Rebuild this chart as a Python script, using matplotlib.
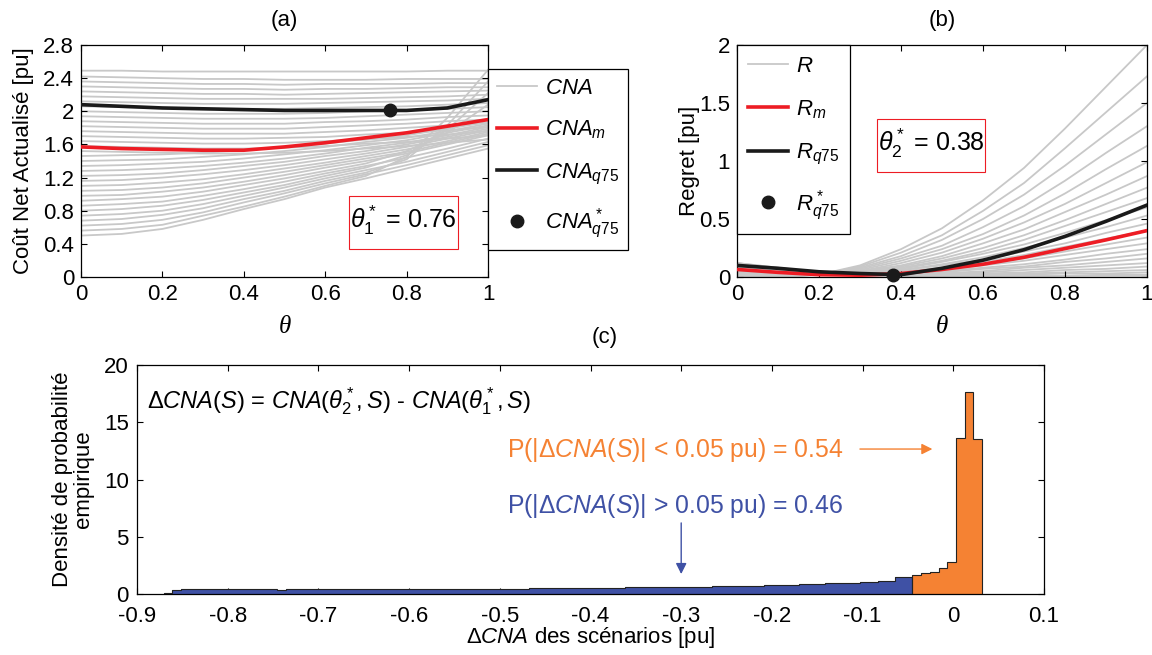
import numpy as np
import matplotlib
matplotlib.use("Agg")
import matplotlib.pyplot as plt
from matplotlib.lines import Line2D
from matplotlib.patches import Rectangle

plt.rcParams['font.family'] = ['Liberation Sans', 'DejaVu Sans']
plt.rcParams['mathtext.fontset'] = 'custom'
plt.rcParams['mathtext.rm'] = 'Liberation Sans'
plt.rcParams['mathtext.it'] = 'Liberation Sans:italic'
plt.rcParams['mathtext.bf'] = 'Liberation Sans:bold'
plt.rcParams['axes.linewidth'] = 0.9

# ---------------- data ----------------
theta = [0.0, 0.1, 0.2, 0.3, 0.4, 0.5, 0.6, 0.7, 0.8, 0.9, 1.0]

# (a) CNA per scenario
cna_scen = [
    [0.50, 0.52, 0.58, 0.69, 0.82, 0.94, 1.08, 1.19, 1.31, 1.43, 1.55],
    [0.56, 0.58, 0.63, 0.74, 0.85, 0.97, 1.10, 1.22, 1.45, 1.92, 2.50],
    [0.62, 0.64, 0.69, 0.78, 0.90, 1.01, 1.13, 1.24, 1.35, 1.47, 1.59],
    [0.68, 0.70, 0.75, 0.83, 0.94, 1.04, 1.16, 1.26, 1.42, 1.83, 2.36],
    [0.74, 0.76, 0.80, 0.88, 0.98, 1.08, 1.19, 1.29, 1.39, 1.51, 1.63],
    [0.80, 0.82, 0.86, 0.93, 1.02, 1.11, 1.22, 1.32, 1.47, 1.78, 2.22],
    [0.86, 0.88, 0.91, 0.98, 1.06, 1.15, 1.25, 1.34, 1.44, 1.55, 1.67],
    [0.92, 0.94, 0.97, 1.03, 1.11, 1.19, 1.28, 1.37, 1.52, 1.74, 2.08],
    [0.98, 0.99, 1.03, 1.08, 1.15, 1.23, 1.32, 1.40, 1.49, 1.60, 1.71],
    [1.04, 1.05, 1.08, 1.13, 1.20, 1.27, 1.35, 1.43, 1.51, 1.62, 1.73],
    [1.10, 1.11, 1.14, 1.18, 1.24, 1.31, 1.38, 1.46, 1.54, 1.64, 1.75],
    [1.16, 1.17, 1.20, 1.24, 1.29, 1.35, 1.42, 1.49, 1.57, 1.67, 1.77],
    [1.22, 1.23, 1.25, 1.29, 1.34, 1.39, 1.46, 1.52, 1.60, 1.69, 1.79],
    [1.28, 1.29, 1.31, 1.34, 1.38, 1.43, 1.49, 1.56, 1.62, 1.71, 1.81],
    [1.34, 1.35, 1.37, 1.39, 1.43, 1.48, 1.53, 1.59, 1.65, 1.74, 1.83],
    [1.40, 1.41, 1.42, 1.45, 1.48, 1.52, 1.57, 1.63, 1.68, 1.76, 1.85],
    [1.46, 1.47, 1.48, 1.50, 1.53, 1.57, 1.61, 1.66, 1.71, 1.79, 1.87],
    [1.52, 1.51, 1.50, 1.49, 1.49, 1.50, 1.52, 1.55, 1.58, 1.62, 1.66],
    [1.58, 1.57, 1.56, 1.55, 1.55, 1.56, 1.58, 1.61, 1.63, 1.67, 1.71],
    [1.64, 1.63, 1.62, 1.61, 1.61, 1.62, 1.64, 1.66, 1.69, 1.72, 1.76],
    [1.70, 1.69, 1.68, 1.67, 1.67, 1.68, 1.69, 1.72, 1.74, 1.77, 1.81],
    [1.76, 1.75, 1.74, 1.73, 1.73, 1.73, 1.75, 1.77, 1.80, 1.83, 1.86],
    [1.82, 1.81, 1.80, 1.79, 1.79, 1.79, 1.81, 1.83, 1.85, 1.88, 1.90],
    [1.88, 1.87, 1.86, 1.85, 1.85, 1.85, 1.87, 1.88, 1.90, 1.93, 1.95],
    [1.94, 1.93, 1.92, 1.91, 1.91, 1.91, 1.92, 1.94, 1.96, 1.98, 2.00],
    [2.00, 1.99, 1.98, 1.97, 1.97, 1.97, 1.98, 2.00, 2.01, 2.03, 2.05],
    [2.06, 2.05, 2.04, 2.03, 2.03, 2.03, 2.04, 2.05, 2.06, 2.08, 2.10],
    [2.12, 2.11, 2.10, 2.09, 2.09, 2.09, 2.10, 2.11, 2.12, 2.13, 2.15],
    [2.18, 2.17, 2.16, 2.15, 2.15, 2.15, 2.15, 2.16, 2.17, 2.18, 2.20],
    [2.24, 2.23, 2.22, 2.21, 2.21, 2.20, 2.21, 2.22, 2.23, 2.24, 2.25],
    [2.30, 2.29, 2.28, 2.27, 2.27, 2.26, 2.27, 2.27, 2.28, 2.29, 2.29],
    [2.36, 2.35, 2.34, 2.33, 2.33, 2.32, 2.33, 2.33, 2.33, 2.34, 2.34],
    [2.42, 2.41, 2.40, 2.39, 2.39, 2.38, 2.38, 2.38, 2.39, 2.39, 2.39],
    [2.49, 2.49, 2.48, 2.48, 2.48, 2.48, 2.48, 2.48, 2.48, 2.49, 2.49],
]
cna_mean = [1.57, 1.55, 1.54, 1.53, 1.53, 1.57, 1.62, 1.68, 1.74, 1.82, 1.90]
cna_q75 = [2.08, 2.06, 2.04, 2.03, 2.02, 2.01, 2.01, 2.01, 2.01, 2.04, 2.14]
theta1_star = 0.76
cna_q75_star = 2.01

# (b) Regret per scenario
reg_scen = [
    [0.00, 0.00, 0.02, 0.10, 0.24, 0.42, 0.66, 0.94, 1.28, 1.64, 2.00],
    [0.00, 0.00, 0.02, 0.09, 0.21, 0.36, 0.57, 0.81, 1.11, 1.42, 1.73],
    [0.01, 0.00, 0.02, 0.08, 0.18, 0.32, 0.50, 0.71, 0.96, 1.23, 1.50],
    [0.01, 0.01, 0.02, 0.07, 0.16, 0.27, 0.43, 0.61, 0.83, 1.07, 1.30],
    [0.02, 0.01, 0.02, 0.06, 0.14, 0.24, 0.37, 0.53, 0.72, 0.93, 1.13],
    [0.03, 0.02, 0.02, 0.05, 0.12, 0.21, 0.33, 0.47, 0.63, 0.81, 0.99],
    [0.04, 0.02, 0.02, 0.05, 0.10, 0.18, 0.29, 0.41, 0.56, 0.71, 0.87],
    [0.05, 0.03, 0.02, 0.04, 0.09, 0.16, 0.25, 0.36, 0.49, 0.63, 0.77],
    [0.05, 0.03, 0.03, 0.04, 0.08, 0.14, 0.22, 0.32, 0.44, 0.56, 0.68],
    [0.06, 0.04, 0.03, 0.04, 0.07, 0.13, 0.20, 0.28, 0.38, 0.49, 0.60],
    [0.06, 0.04, 0.03, 0.03, 0.06, 0.11, 0.17, 0.25, 0.34, 0.43, 0.53],
    [0.07, 0.05, 0.03, 0.03, 0.06, 0.10, 0.15, 0.22, 0.29, 0.38, 0.46],
    [0.08, 0.05, 0.03, 0.03, 0.05, 0.08, 0.13, 0.19, 0.26, 0.33, 0.40],
    [0.08, 0.05, 0.03, 0.03, 0.04, 0.07, 0.11, 0.16, 0.22, 0.28, 0.34],
    [0.09, 0.06, 0.03, 0.03, 0.03, 0.06, 0.10, 0.14, 0.19, 0.24, 0.29],
    [0.09, 0.06, 0.03, 0.02, 0.03, 0.05, 0.08, 0.11, 0.15, 0.20, 0.24],
    [0.10, 0.06, 0.04, 0.02, 0.02, 0.04, 0.07, 0.09, 0.13, 0.16, 0.20],
    [0.10, 0.07, 0.04, 0.02, 0.02, 0.03, 0.05, 0.08, 0.10, 0.13, 0.16],
    [0.11, 0.07, 0.04, 0.02, 0.01, 0.03, 0.04, 0.06, 0.08, 0.10, 0.12],
    [0.11, 0.07, 0.04, 0.02, 0.01, 0.02, 0.03, 0.04, 0.06, 0.07, 0.09],
    [0.11, 0.07, 0.04, 0.02, 0.01, 0.01, 0.02, 0.03, 0.04, 0.05, 0.06],
    [0.12, 0.07, 0.04, 0.02, 0.00, 0.01, 0.01, 0.02, 0.03, 0.03, 0.04],
    [0.12, 0.08, 0.04, 0.01, 0.00, 0.00, 0.01, 0.01, 0.01, 0.02, 0.02],
    [0.12, 0.08, 0.04, 0.01, 0.00, 0.00, 0.00, 0.00, 0.01, 0.01, 0.01],
]
reg_mean = [0.065, 0.04, 0.02, 0.015, 0.03, 0.065, 0.11, 0.17, 0.245, 0.32, 0.40]
reg_q75 = [0.10, 0.075, 0.045, 0.03, 0.02, 0.075, 0.145, 0.235, 0.35, 0.48, 0.62]
theta2_star = 0.38
reg_q75_star = 0.02

# (c) histogram of Delta CNA
hist_start = -0.8706
bin_width = 0.0096
dens_far = [
    0.12, 0.38, 0.40, 0.40, 0.42, 0.40, 0.40, 0.44, 0.41, 0.40,
    0.40, 0.43, 0.40, 0.38, 0.42, 0.42, 0.40, 0.40, 0.44, 0.43,
    0.42, 0.40, 0.40, 0.43, 0.43, 0.41, 0.40, 0.42, 0.42, 0.40,
    0.40, 0.41, 0.42, 0.42, 0.42, 0.42, 0.46, 0.46, 0.45, 0.48,
    0.46, 0.46, 0.49, 0.50, 0.50, 0.52, 0.50, 0.52, 0.52, 0.50,
    0.55, 0.55, 0.56, 0.58, 0.58, 0.57, 0.60, 0.60, 0.58, 0.62,
    0.64, 0.65, 0.62, 0.66, 0.70, 0.70, 0.72, 0.72, 0.74, 0.75,
    0.78, 0.80, 0.82, 0.85, 0.85, 0.88, 0.92, 0.93, 0.95, 1.00,
    1.02, 1.05, 1.10, 1.15, 1.45, 1.50,
]
dens_near = [1.66, 1.80, 1.95, 2.24, 2.76, 13.6, 17.65, 13.55]

GRAY = '#c8c8c8'
RED = '#ed1c24'
BLACK = '#1a1a1a'
ORANGE = '#f58233'
BLUE = '#3f51a5'
FS = 16

# ---------------- figure ----------------
W, H = 1152, 655
fig = plt.figure(figsize=(W / 100, H / 100), dpi=100)

def px_axes(x0, y0, x1, y1):
    return fig.add_axes([x0 / W, 1 - y1 / H, (x1 - x0) / W, (y1 - y0) / H])

def px_box(x0, y0, x1, y1):
    r = Rectangle((x0 / W, 1 - y1 / H), (x1 - x0) / W, (y1 - y0) / H,
                  transform=fig.transFigure, fc='white', ec=RED, lw=0.8, zorder=5)
    fig.add_artist(r)

axa = px_axes(81, 45, 488, 277)
axb = px_axes(737, 45, 1147, 277)
axc = px_axes(137, 365, 1044, 594)

for ax in (axa, axb, axc):
    ax.tick_params(direction='in', top=True, right=True, length=4.5, width=0.8,
                   labelsize=FS, pad=5)
    for s in ax.spines.values():
        s.set_linewidth(0.9)
axc.tick_params(axis='x', pad=8.5)
axc.tick_params(axis='y', pad=6)

# ---- (a)
for row in cna_scen:
    axa.plot(theta, row, color=GRAY, lw=1.3, zorder=1)
axa.plot(theta, cna_mean, color=RED, lw=2.6, zorder=3)
axa.plot(theta, cna_q75, color=BLACK, lw=2.6, zorder=4)
axa.plot([theta1_star], [cna_q75_star], 'o', color=BLACK, ms=9, zorder=5)
axa.set_xlim(0, 1)
axa.set_ylim(0, 2.8)
axa.set_xticks([0, 0.2, 0.4, 0.6, 0.8, 1])
axa.set_xticklabels(['0', '0.2', '0.4', '0.6', '0.8', '1'])
axa.set_yticks([0, 0.4, 0.8, 1.2, 1.6, 2.0, 2.4, 2.8])
axa.set_yticklabels(['0', '0.4', '0.8', '1.2', '1.6', '2', '2.4', '2.8'])
axa.set_title('(a)', fontsize=FS, pad=14)
axa.set_ylabel('Coût Net Actualisé [pu]', fontsize=FS)
axa.yaxis.set_label_coords(-0.115, 0.5)
axa.set_xlabel('θ', fontsize=FS + 2, family='Liberation Serif', style='italic')
axa.xaxis.set_label_coords(0.5, -0.17)

hand_a = [Line2D([], [], color=GRAY, lw=1.3),
          Line2D([], [], color=RED, lw=2.6),
          Line2D([], [], color=BLACK, lw=2.6),
          Line2D([], [], color=BLACK, ls='none', marker='o', ms=9)]
lab_a = [r'$CNA$', r'$CNA_m$', r'$CNA_{q75}$', r'$CNA^*_{q75}$']
leg_a = fig.legend(hand_a, lab_a, loc='upper left',
                   bbox_to_anchor=(488 / W, 1 - 69 / H), bbox_transform=fig.transFigure,
                   fontsize=FS, frameon=True, fancybox=False, framealpha=1,
                   edgecolor='black', borderaxespad=0, handlelength=1.8,
                   labelspacing=0.9, borderpad=0.4, handletextpad=0.35)
leg_a.get_frame().set_linewidth(0.9)

px_box(349, 196, 458, 249)
fig.text(403 / W, 1 - 220 / H, r'$\theta^*_1$ = 0.76', fontsize=18,
         ha='center', va='center', zorder=6)

# ---- (b)
for row in reg_scen:
    axb.plot(theta, row, color=GRAY, lw=1.3, zorder=1)
axb.plot(theta, reg_mean, color=RED, lw=2.6, zorder=3)
axb.plot(theta, reg_q75, color=BLACK, lw=2.6, zorder=4)
axb.plot([theta2_star], [reg_q75_star], 'o', color=BLACK, ms=9, zorder=5, clip_on=False)
axb.set_xlim(0, 1)
axb.set_ylim(0, 2)
axb.set_xticks([0, 0.2, 0.4, 0.6, 0.8, 1])
axb.set_xticklabels(['0', '0.2', '0.4', '0.6', '0.8', '1'])
axb.set_yticks([0, 0.5, 1, 1.5, 2])
axb.set_yticklabels(['0', '0.5', '1', '1.5', '2'])
axb.set_title('(b)', fontsize=FS, pad=14)
axb.set_ylabel('Regret [pu]', fontsize=FS)
axb.yaxis.set_label_coords(-0.09, 0.5)
axb.set_xlabel('θ', fontsize=FS + 2, family='Liberation Serif', style='italic')
axb.xaxis.set_label_coords(0.5, -0.17)

hand_b = [Line2D([], [], color=GRAY, lw=1.3),
          Line2D([], [], color=RED, lw=2.6),
          Line2D([], [], color=BLACK, lw=2.6),
          Line2D([], [], color=BLACK, ls='none', marker='o', ms=9)]
lab_b = [r'$R$', r'$R_m$', r'$R_{q75}$', r'$R^*_{q75}$']
leg_b = axb.legend(hand_b, lab_b, loc='upper left',
                   bbox_to_anchor=(737 / W, 1 - 45 / H), bbox_transform=fig.transFigure,
                   fontsize=FS, frameon=True, fancybox=False, framealpha=1,
                   edgecolor='black', borderaxespad=0, handlelength=1.8,
                   labelspacing=0.95, borderpad=0.5, handletextpad=0.35)
leg_b.get_frame().set_linewidth(0.9)

px_box(877, 119, 985, 172)
fig.text(931 / W, 1 - 143 / H, r'$\theta^*_2$ = 0.38', fontsize=18,
         ha='center', va='center', zorder=6)

# ---- (c)
n_far = len(dens_far)
n_near = len(dens_near)
edges_far = hist_start + bin_width * np.arange(n_far + 1)
edges_near = edges_far[-1] + bin_width * np.arange(n_near + 1)
axc.stairs(dens_far, edges_far, fill=True, color=BLUE, zorder=2)
axc.stairs(dens_near, edges_near, fill=True, color=ORANGE, zorder=2)
axc.stairs(dens_far, edges_far, color='#222222', lw=0.8, zorder=3)
axc.stairs(dens_near, edges_near, baseline=0, color='#222222', lw=0.8, zorder=3)
axc.set_xlim(-0.9, 0.1)
axc.set_ylim(0, 20)
axc.set_xticks(np.round(np.arange(-0.9, 0.11, 0.1), 1))
axc.set_xticklabels(['-0.9', '-0.8', '-0.7', '-0.6', '-0.5', '-0.4', '-0.3',
                     '-0.2', '-0.1', '0', '0.1'])
axc.set_yticks([0, 5, 10, 15, 20])
for lab in axc.get_yticklabels():
    lab.set_va('center_baseline')
axc.set_ylabel('Densité de probabilité\nempirique', fontsize=FS, linespacing=1.0)
axc.yaxis.set_label_coords(-0.047, 0.5)
axc.set_xlabel(r'$\Delta CNA$ des scénarios [pu]', fontsize=FS)
axc.xaxis.set_label_coords(0.5, -0.135)
fig.text(605 / W, 1 - 338 / H, '(c)', fontsize=FS, ha='center', va='center')

axc.text(-0.889, 16.8, r'$\Delta CNA(S)$ = $CNA(\theta^*_2,S)$ - $CNA(\theta^*_1,S)$',
         fontsize=17, ha='left', va='center')
axc.text(-0.492, 12.6, r'P(|$\Delta CNA(S)$| < 0.05 pu) = 0.54', color=ORANGE,
         fontsize=17.8, ha='left', va='center')
axc.text(-0.492, 7.7, r'P(|$\Delta CNA(S)$| > 0.05 pu) = 0.46', color=BLUE,
         fontsize=17.8, ha='left', va='center')
axc.annotate('', xy=(-0.02, 12.66), xytext=(-0.106, 12.66),
             arrowprops=dict(arrowstyle='-|>', color=ORANGE, lw=1.0, mutation_scale=16))
axc.annotate('', xy=(-0.3, 1.5), xytext=(-0.3, 6.45),
             arrowprops=dict(arrowstyle='-|>', color=BLUE, lw=1.0, mutation_scale=16))

fig.savefig('out.png', dpi=100)
